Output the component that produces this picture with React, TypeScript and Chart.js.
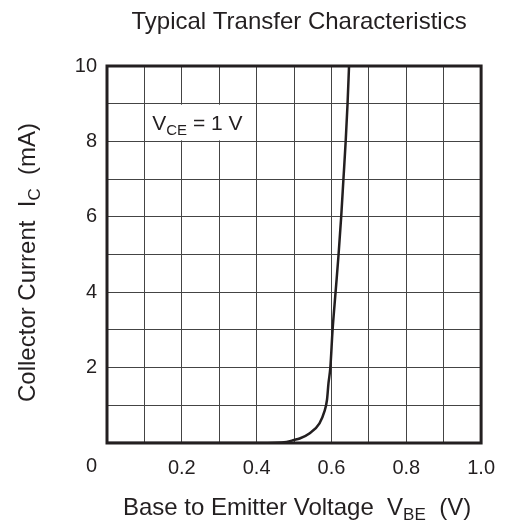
import React, { useEffect, useRef } from 'react';
import { Chart, registerables } from 'chart.js';

Chart.register(...registerables);

// Data
const vbe = [0, 0.1, 0.2, 0.3, 0.4, 0.45, 0.48, 0.5, 0.515, 0.542, 0.568, 0.581, 0.588, 0.592, 0.597, 0.603, 0.611, 0.619, 0.626, 0.632, 0.638, 0.643, 0.647];
const ic = [0, 0, 0, 0, 0, 0.005, 0.03, 0.08, 0.12, 0.26, 0.52, 0.83, 1.14, 1.58, 2.0, 3, 4, 5, 6, 7, 8, 9, 10];

const xMin = 0;
const xMax = 1;
const xStep = 0.1;
const yMin = 0;
const yMax = 10;
const yStep = 1;

const titleText = 'Typical Transfer Characteristics';
const xTitleParts = [
  { t: 'Base to Emitter Voltage  V' },
  { t: 'BE', sub: true },
  { t: '  (V)' },
];
const yTitleParts = [
  { t: 'Collector Current  I' },
  { t: 'C', sub: true },
  { t: '  (mA)' },
];
const noteParts = [
  { t: 'V' },
  { t: 'CE', sub: true },
  { t: ' = 1 V' },
];

const FONT = '"Liberation Sans", Arial, Helvetica, sans-serif';
const INK = '#231f20';

type Part = { t: string; sub?: boolean };

function drawRich(
  ctx: CanvasRenderingContext2D,
  parts: Part[],
  x: number,
  y: number,
  size: number,
  align: 'left' | 'center' | 'right'
) {
  const subSize = Math.round(size * 0.72);
  let total = 0;
  const widths = parts.map((p) => {
    ctx.font = `${p.sub ? subSize : size}px ${FONT}`;
    const w = ctx.measureText(p.t).width;
    total += w;
    return w;
  });
  let cx = align === 'left' ? x : align === 'center' ? x - total / 2 : x - total;
  ctx.textAlign = 'left';
  ctx.textBaseline = 'alphabetic';
  parts.forEach((p, i) => {
    ctx.font = `${p.sub ? subSize : size}px ${FONT}`;
    ctx.fillText(p.t, cx, p.sub ? y + size * 0.22 : y);
    cx += widths[i];
  });
}

const decorPlugin = {
  id: 'decor',
  beforeDatasetsDraw(chart: any) {
    const { ctx, scales } = chart;
    const xs = scales.x;
    const ys = scales.y;
    // white box behind the V_CE note
    const l = xs.getPixelForValue(0.1) + 1;
    const r = xs.getPixelForValue(0.37);
    const t = ys.getPixelForValue(9) + 1;
    const b = ys.getPixelForValue(8) - 1;
    ctx.save();
    ctx.fillStyle = '#ffffff';
    ctx.fillRect(l, t, r - l, b - t);
    ctx.fillStyle = INK;
    drawRich(ctx, noteParts, xs.getPixelForValue(0.121), ys.getPixelForValue(8.3), 21, 'left');
    ctx.restore();
  },
  afterDraw(chart: any) {
    const { ctx, chartArea, scales } = chart;
    const { left, right, top, bottom } = chartArea;
    ctx.save();
    // frame
    ctx.strokeStyle = INK;
    ctx.lineWidth = 3;
    ctx.strokeRect(left, top, right - left, bottom - top);
    ctx.fillStyle = INK;
    // title
    ctx.font = `24px ${FONT}`;
    ctx.textAlign = 'center';
    ctx.textBaseline = 'alphabetic';
    ctx.fillText(titleText, (left + right) / 2 + 5, 29);
    // x title
    drawRich(ctx, xTitleParts, (left + right) / 2 + 3, 515, 24, 'center');
    // y title
    ctx.save();
    ctx.translate(35, (top + bottom) / 2 + 8);
    ctx.rotate(-Math.PI / 2);
    drawRich(ctx, yTitleParts, 0, 0, 24, 'center');
    ctx.restore();
    // origin label
    ctx.font = `20px ${FONT}`;
    ctx.textAlign = 'right';
    ctx.textBaseline = 'middle';
    ctx.fillText('0', scales.y.left + scales.y.width - 10, bottom + 23);
    ctx.restore();
  },
};

export default function App() {
  const ref = useRef<HTMLCanvasElement | null>(null);
  useEffect(() => {
    document.body.style.margin = '0';
    if (!ref.current) return;
    const chart = new Chart(ref.current, {
      type: 'line',
      data: {
        datasets: [
          {
            data: vbe.map((v, i) => ({ x: v, y: ic[i] })),
            borderColor: INK,
            borderWidth: 2.5,
            pointRadius: 0,
            cubicInterpolationMode: 'monotone',
            fill: false,
          },
        ],
      },
      options: {
        animation: false,
        responsive: false,
        devicePixelRatio: 1,
        layout: { padding: { top: 66, right: 20, left: 0, bottom: 0 } },
        plugins: {
          legend: { display: false },
          title: { display: false },
          tooltip: { enabled: false },
        },
        scales: {
          x: {
            type: 'linear',
            min: xMin,
            max: xMax,
            ticks: {
              stepSize: xStep,
              autoSkip: false,
              maxRotation: 0,
              padding: 13,
              color: INK,
              font: { size: 20, family: FONT },
              callback: (v: any) => {
                const k = Math.round(Number(v) * 10);
                return k > 0 && k % 2 === 0 ? Number(v).toFixed(1) : '';
              },
            },
            grid: { color: '#444444', lineWidth: 1, drawTicks: false },
            border: { display: false },
            afterFit: (s: any) => {
              s.height = 83;
            },
          },
          y: {
            type: 'linear',
            min: yMin,
            max: yMax,
            ticks: {
              stepSize: yStep,
              autoSkip: false,
              padding: 10,
              color: INK,
              font: { size: 20, family: FONT },
              callback: (v: any) => {
                const n = Math.round(Number(v));
                return n > 0 && n % 2 === 0 ? String(n) : '';
              },
            },
            grid: { color: '#444444', lineWidth: 1, drawTicks: false },
            border: { display: false },
            afterFit: (s: any) => {
              s.width = 107;
            },
          },
        },
      },
      plugins: [decorPlugin],
    });
    return () => chart.destroy();
  }, []);
  return (
    <div style={{ width: 508, height: 526, background: '#fff' }}>
      <canvas ref={ref} width={508} height={526} style={{ display: 'block' }} />
    </div>
  );
}
